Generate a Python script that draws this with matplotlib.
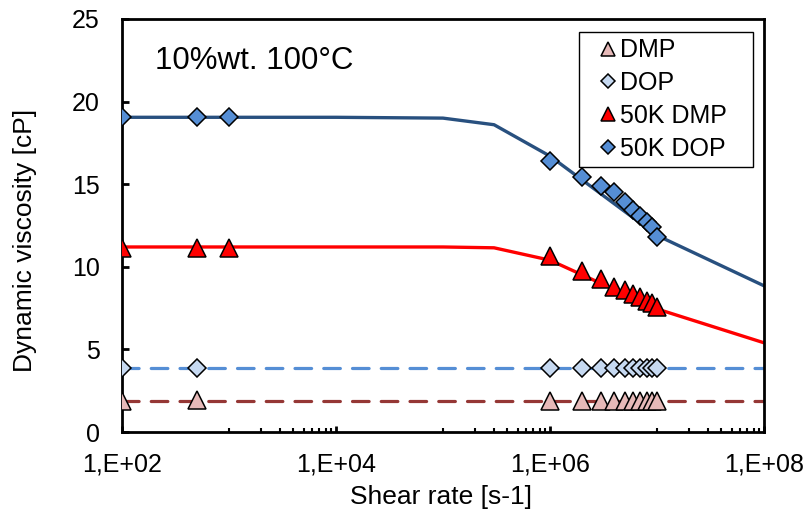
import numpy as np
import matplotlib
matplotlib.use('Agg')
import matplotlib.pyplot as plt
from matplotlib.ticker import FixedLocator, FuncFormatter, NullFormatter

plt.rcParams['font.family'] = ['Liberation Sans', 'DejaVu Sans']

# Datos medidos (velocidad de corte en s-1, viscosidad en cP)
rate_50k = [1e2, 5e2, 1e3, 1e6, 2e6, 3e6, 4e6, 5e6, 6e6, 7e6, 8e6, 9e6, 1e7]
visc_50k_dop = [19.05, 19.05, 19.05, 16.4, 15.45, 14.9, 14.5, 13.9, 13.45, 13.1, 12.7, 12.4, 11.8]
visc_50k_dmp = [11.15, 11.15, 11.15, 10.65, 9.75, 9.27, 8.8, 8.6, 8.36, 8.18, 7.94, 7.82, 7.58]

rate_neat = [1e2, 5e2, 1e6, 2e6, 3e6, 4e6, 5e6, 6e6, 7e6, 8e6, 9e6, 1e7]
visc_dop = [3.9, 3.9, 3.9, 3.9, 3.9, 3.9, 3.9, 3.9, 3.9, 3.9, 3.9, 3.9]
visc_dmp = [1.9, 1.95, 1.85, 1.85, 1.85, 1.85, 1.85, 1.85, 1.85, 1.85, 1.85, 1.85]

# Curvas de ajuste
fit_rate = [1e2, 1e3, 1e4, 1e5, 3e5, 1e6, 1e7, 1e8]
fit_50k_dop = [19.05, 19.05, 19.05, 19.0, 18.6, 16.7, 11.9, 8.85]
fit_50k_dmp = [11.2, 11.2, 11.2, 11.2, 11.15, 10.4, 7.45, 5.4]
fit_dop = [3.9, 3.9, 3.9, 3.9, 3.9, 3.9, 3.9, 3.9]
fit_dmp = [1.85, 1.85, 1.85, 1.85, 1.85, 1.85, 1.85, 1.85]

fig = plt.figure(figsize=(8.06, 5.15), dpi=100)
ax = fig.add_axes([122 / 806, 1 - 432 / 515, 642 / 806, 413 / 515])

# Lineas
ax.plot(fit_rate, fit_50k_dop, color='#28507F', lw=2.4, zorder=2)
ax.plot(fit_rate, fit_50k_dmp, color='#FF0000', lw=2.4, zorder=2)
ax.plot(fit_rate, fit_dop, color='#558ED5', lw=2.3, dashes=(5.2, 3.8),
        dash_capstyle='round', zorder=2)
ax.plot(fit_rate, fit_dmp, color='#953735', lw=2.3, dashes=(5.2, 3.8),
        dash_capstyle='round', zorder=2)

# Marcadores
h1, = ax.plot(rate_neat, visc_dmp, ls='none', marker='^', ms=12.5,
              mfc='#E6B9B8', mec='black', mew=1.1, label='DMP', zorder=3)
h2, = ax.plot(rate_neat, visc_dop, ls='none', marker='D', ms=9.5,
              mfc='#C6D9F1', mec='black', mew=1.1, label='DOP', zorder=3)
h3, = ax.plot(rate_50k, visc_50k_dmp, ls='none', marker='^', ms=12.5,
              mfc='#FF0000', mec='black', mew=1.1, label='50K DMP', zorder=3)
h4, = ax.plot(rate_50k, visc_50k_dop, ls='none', marker='D', ms=9.5,
              mfc='#558ED5', mec='black', mew=1.1, label='50K DOP', zorder=3)

ax.set_xscale('log')
ax.set_xlim(1e2, 1e8)
ax.set_ylim(0, 25)

ax.xaxis.set_major_locator(FixedLocator([1e2, 1e4, 1e6, 1e8]))
ax.xaxis.set_major_formatter(FuncFormatter(lambda v, p: '1,E+%02d' % round(np.log10(v))))
minor = [k * 10.0 ** d for d in (3, 5, 7) for k in range(1, 10)]
ax.xaxis.set_minor_locator(FixedLocator(minor))
ax.xaxis.set_minor_formatter(NullFormatter())
ax.set_yticks([0, 5, 10, 15, 20, 25])

for s in ax.spines.values():
    s.set_linewidth(2)
    s.set_color('black')
ax.tick_params(axis='both', which='major', direction='in', width=2,
               labelsize=18, colors='black')
ax.tick_params(axis='x', which='major', length=4, pad=15)
ax.tick_params(axis='y', which='major', length=5, pad=16)
ax.tick_params(axis='x', which='minor', direction='in', length=3, width=1.5)

ax.set_xlabel('Shear rate [s-1]', fontsize=19)
ax.set_ylabel('Dynamic viscosity [cP]', fontsize=19)
ax.xaxis.set_label_coords(0.497, -0.158)
ax.xaxis.label.set_verticalalignment('center')
ax.yaxis.set_label_coords(-0.151, 0.465)
ax.yaxis.label.set_verticalalignment('center')

ax.text(0.051, 0.898, '10%wt. 100\u00b0C', transform=ax.transAxes,
        fontsize=22.5, ha='left', va='center')

leg = ax.legend(handles=[h1, h2, h3, h4], loc='upper left',
                bbox_to_anchor=(0.712, 0.5, 0.271, 0.4685), mode='expand',
                borderaxespad=0, fontsize=18,
                frameon=True, fancybox=False, framealpha=1, edgecolor='black',
                markerscale=0.75, handlelength=1.84, handletextpad=-0.44,
                borderpad=0.25, labelspacing=0.35)
leg.get_frame().set_linewidth(1)

fig.savefig('out.png', dpi=100)
